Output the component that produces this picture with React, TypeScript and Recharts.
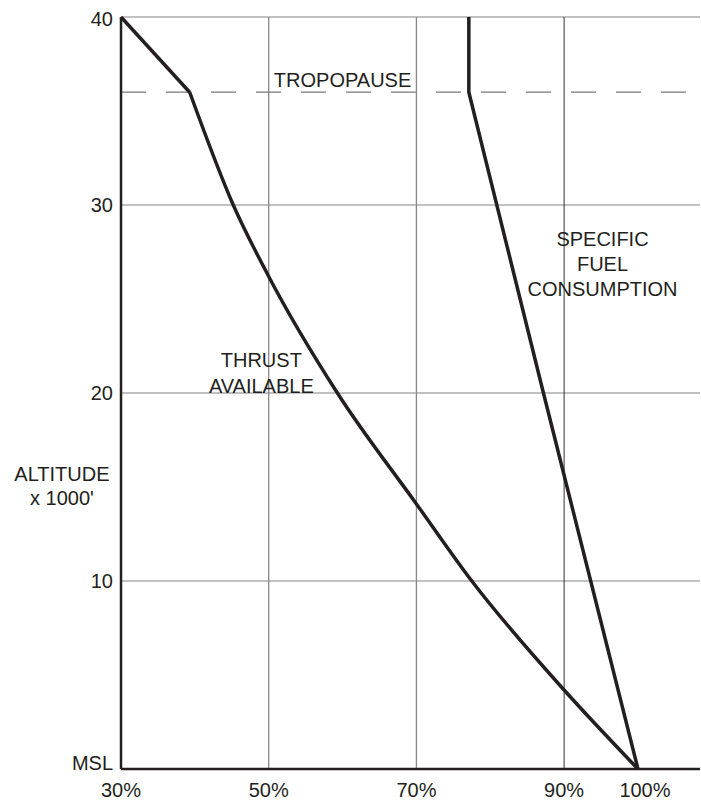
import React from 'react';
import { LineChart, Line, XAxis, YAxis, CartesianGrid, ReferenceLine, ReferenceDot } from 'recharts';

const altitudeTicks = [0, 10, 20, 30, 40];
const percentTicks = [30, 50, 70, 90, 100];
const verticalGrid = [50, 70, 90];
const tropopauseAlt = 36;

const thrustAboveTropopause = [
  { x: 30, alt: 40 },
  { x: 39.3, alt: 36 },
];
const thrustBelowTropopause = [
  { x: 39.3, alt: 36 },
  { x: 45.2, alt: 30 },
  { x: 50, alt: 26.2 },
  { x: 59.3, alt: 20 },
  { x: 70, alt: 14.1 },
  { x: 77.5, alt: 10 },
  { x: 90, alt: 4.2 },
  { x: 100, alt: 0 },
];
const fuelConsumption = [
  { x: 77.1, alt: 40 },
  { x: 77.1, alt: 36 },
  { x: 87.2, alt: 20 },
  { x: 100, alt: 0 },
];

const FONT = '"Liberation Sans", Arial, Helvetica, sans-serif';
const INK = '#231f20';

const textStyle = { fontFamily: FONT, fontSize: 20, fill: INK } as const;

const XTick = (props: any) => {
  const { x, y, payload } = props;
  const dx = payload.value === 100 ? 7 : 0;
  return (
    <text x={x} y={y} dx={dx} dy={28} textAnchor="middle" {...textStyle}>
      {payload.value}%
    </text>
  );
};

const YTick = (props: any) => {
  const { x, y, payload } = props;
  const dy = payload.value === 0 ? 1 : payload.value === 40 ? 9 : 7;
  return (
    <text x={x} y={y} dy={dy} textAnchor="end" {...textStyle}>
      {payload.value === 0 ? 'MSL' : payload.value}
    </text>
  );
};

const multiLine = (lines: string[], offsets: number[]) =>
  (props: any) => {
    const vb = props.viewBox || {};
    return (
      <g>
        {lines.map((l, i) => (
          <text key={i} x={vb.x} y={vb.y + offsets[i]} textAnchor="middle" {...textStyle}>
            {l}
          </text>
        ))}
      </g>
    );
  };

export default function App() {
  return (
    <div style={{ position: 'absolute', left: 0, top: 0 }}>
      <LineChart width={701} height={802} margin={{ top: 17, right: 1, bottom: 0, left: 0 }}>
        <CartesianGrid vertical={false} stroke="#848484" strokeWidth={1.2} />
        {verticalGrid.map((v) => (
          <ReferenceLine
            key={v}
            x={v}
            stroke={v === 90 ? '#333' : '#888'}
            strokeWidth={v === 90 ? 1 : 1.3}
          />
        ))}
        <ReferenceLine y={tropopauseAlt} stroke="#7a7a7a" strokeWidth={1.2} strokeDasharray="25 20" />
        <XAxis
          type="number"
          dataKey="x"
          domain={[30, 108.4]}
          ticks={percentTicks}
          tick={<XTick />}
          tickLine={false}
          tickSize={0}
          tickMargin={0}
          height={33}
          axisLine={{ stroke: INK, strokeWidth: 2.5 }}
          interval={0}
        />
        <YAxis
          type="number"
          dataKey="alt"
          domain={[0, 40]}
          ticks={altitudeTicks}
          tick={<YTick />}
          tickLine={false}
          tickSize={0}
          tickMargin={8}
          width={121}
          axisLine={{ stroke: INK, strokeWidth: 2.5 }}
          interval={0}
        />
        <Line
          data={thrustAboveTropopause}
          dataKey="alt"
          type="linear"
          stroke={INK}
          strokeWidth={3.5}
          dot={false}
          activeDot={false}
          isAnimationActive={false}
        />
        <Line
          data={thrustBelowTropopause}
          dataKey="alt"
          type="monotone"
          stroke={INK}
          strokeWidth={3.5}
          dot={false}
          activeDot={false}
          isAnimationActive={false}
        />
        <Line
          data={fuelConsumption}
          dataKey="alt"
          type="linear"
          stroke={INK}
          strokeWidth={3.5}
          dot={false}
          activeDot={false}
          isAnimationActive={false}
        />
        <ReferenceDot x={60} y={36} r={0} fill="none" stroke="none" ifOverflow="visible"
          label={multiLine(['TROPOPAUSE'], [-5.5])} />
        <ReferenceDot x={49} y={20} r={0} fill="none" stroke="none" ifOverflow="visible"
          label={multiLine(['THRUST', 'AVAILABLE'], [-26, 0])} />
        <ReferenceDot x={95.2} y={26.5} r={0} fill="none" stroke="none" ifOverflow="visible"
          label={multiLine(['SPECIFIC', 'FUEL', 'CONSUMPTION'], [-25, 0, 25])} />
        <ReferenceDot x={22} y={15.3} r={0} fill="none" stroke="none" ifOverflow="visible"
          label={multiLine(['ALTITUDE', "x 1000'"], [0, 24])} />
      </LineChart>
    </div>
  );
}
